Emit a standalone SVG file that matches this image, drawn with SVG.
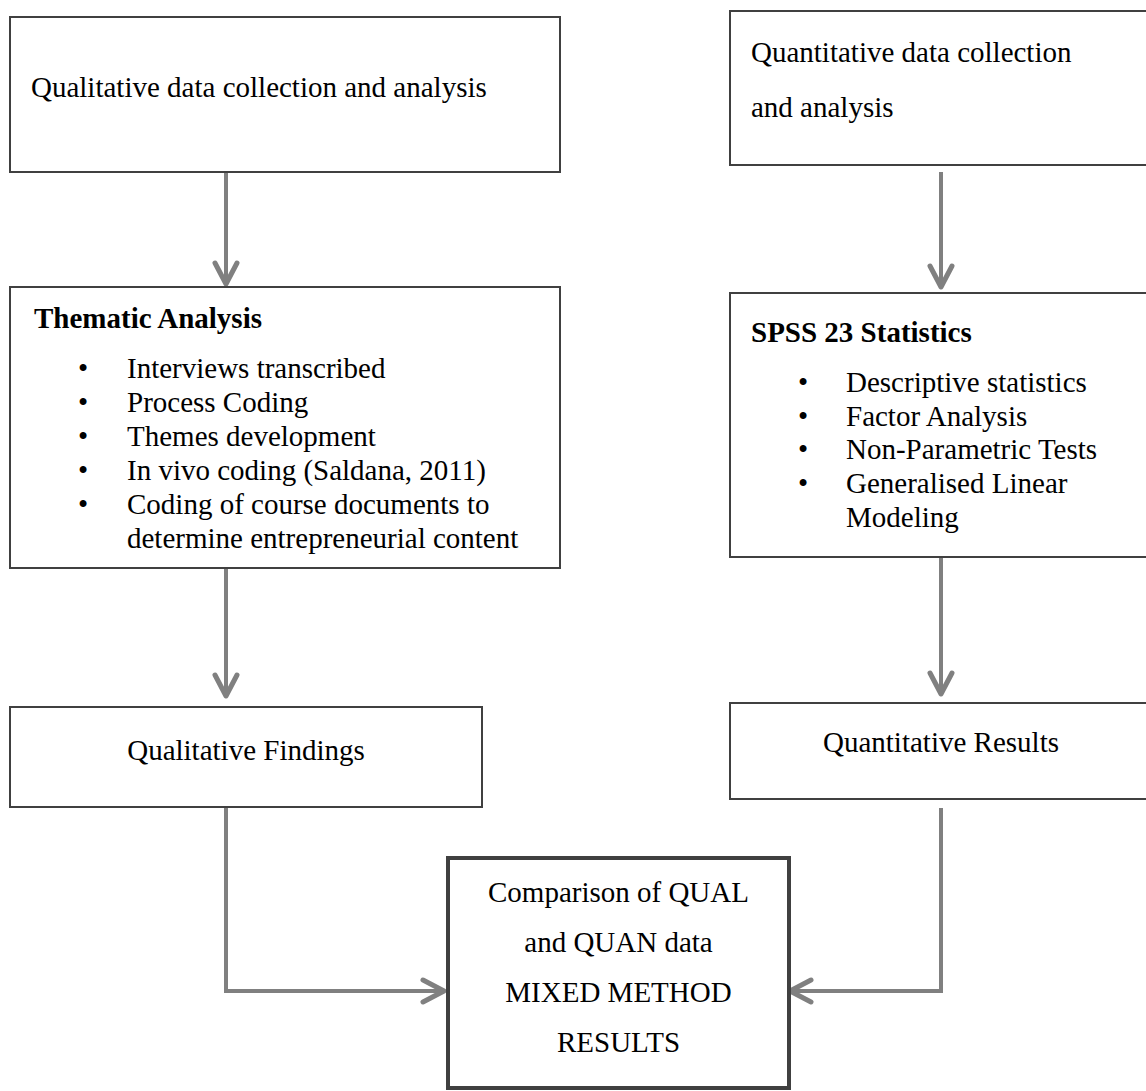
<svg xmlns="http://www.w3.org/2000/svg" width="1146" height="1091" viewBox="0 0 1146 1091">
  <style>
    .box { fill: #ffffff; stroke: #404040; stroke-width: 2; }
    .box-main { fill: #ffffff; stroke: #404040; stroke-width: 4; }
    .t { font-family: "Liberation Serif", "Times New Roman", serif; font-size: 29px; fill: #000000; }
    .b { font-weight: bold; }
    .c { text-anchor: middle; }
    .link { fill: none; stroke: #808080; stroke-width: 4; stroke-linejoin: miter; }
  </style>
  <defs>
    <marker id="chev" markerUnits="userSpaceOnUse" markerWidth="34" markerHeight="34" viewBox="-28 -17 34 34" refX="0" refY="0" orient="auto">
      <path d="M-21,-11 L0,0 L-21,11" fill="none" stroke="#808080" stroke-width="5" stroke-linecap="round" stroke-linejoin="round"/>
    </marker>
  </defs>
  <rect width="1146" height="1091" fill="#ffffff"/>

  <!-- connectors -->
  <g id="connectors">
    <line class="link" x1="226" y1="172" x2="226" y2="284" marker-end="url(#chev)"/>
    <line class="link" x1="226" y1="568" x2="226" y2="696" marker-end="url(#chev)"/>
    <line class="link" x1="941" y1="172" x2="941" y2="287" marker-end="url(#chev)"/>
    <line class="link" x1="941" y1="557" x2="941" y2="694" marker-end="url(#chev)"/>
    <polyline class="link" points="226,807 226,991 444,991" marker-end="url(#chev)"/>
    <polyline class="link" points="941,808 941,991 790,991" marker-end="url(#chev)"/>
  </g>

  <!-- qualitative strand -->
  <g id="qual-collection">
    <rect class="box" x="10" y="17" width="550" height="155"/>
    <text class="t" x="31" y="97">Qualitative data collection and analysis</text>
  </g>
  <g id="thematic-analysis">
    <rect class="box" x="10" y="287" width="550" height="281"/>
    <text class="t b" x="34" y="328">Thematic Analysis</text>
    <g class="t">
      <text class="t" x="83" y="378" text-anchor="middle">•</text>
      <text class="t" x="127" y="378">Interviews transcribed</text>
      <text class="t" x="83" y="412" text-anchor="middle">•</text>
      <text class="t" x="127" y="412">Process Coding</text>
      <text class="t" x="83" y="446" text-anchor="middle">•</text>
      <text class="t" x="127" y="446">Themes development</text>
      <text class="t" x="83" y="480" text-anchor="middle">•</text>
      <text class="t" x="127" y="480">In vivo coding (Saldana, 2011)</text>
      <text class="t" x="83" y="514" text-anchor="middle">•</text>
      <text class="t" x="127" y="514">Coding of course documents to</text>
      <text class="t" x="127" y="548">determine entrepreneurial content</text>
    </g>
  </g>
  <g id="qual-findings">
    <rect class="box" x="10" y="707" width="472" height="100"/>
    <text class="t c" x="246" y="760">Qualitative Findings</text>
  </g>

  <!-- quantitative strand -->
  <g id="quan-collection">
    <rect class="box" x="730" y="11" width="430" height="154"/>
    <text class="t" x="751" y="62">Quantitative data collection</text>
    <text class="t" x="751" y="117">and analysis</text>
  </g>
  <g id="spss-statistics">
    <rect class="box" x="730" y="293" width="430" height="264"/>
    <text class="t b" x="751" y="342">SPSS 23 Statistics</text>
    <text class="t" x="803" y="392" text-anchor="middle">•</text>
    <text class="t" x="846" y="392">Descriptive statistics</text>
    <text class="t" x="803" y="426" text-anchor="middle">•</text>
    <text class="t" x="846" y="426">Factor Analysis</text>
    <text class="t" x="803" y="459" text-anchor="middle">•</text>
    <text class="t" x="846" y="459">Non-Parametric Tests</text>
    <text class="t" x="803" y="493" text-anchor="middle">•</text>
    <text class="t" x="846" y="493">Generalised Linear</text>
    <text class="t" x="846" y="527">Modeling</text>
  </g>
  <g id="quan-results">
    <rect class="box" x="730" y="703" width="430" height="96"/>
    <text class="t c" x="941" y="752">Quantitative Results</text>
  </g>

  <!-- merged results -->
  <g id="mixed-results">
    <rect class="box-main" x="448" y="858" width="341" height="230"/>
    <text class="t c" x="618.5" y="902">Comparison of QUAL</text>
    <text class="t c" x="618.5" y="952">and QUAN data</text>
    <text class="t c" x="618.5" y="1002">MIXED METHOD</text>
    <text class="t c" x="618.5" y="1052">RESULTS</text>
  </g>
</svg>
